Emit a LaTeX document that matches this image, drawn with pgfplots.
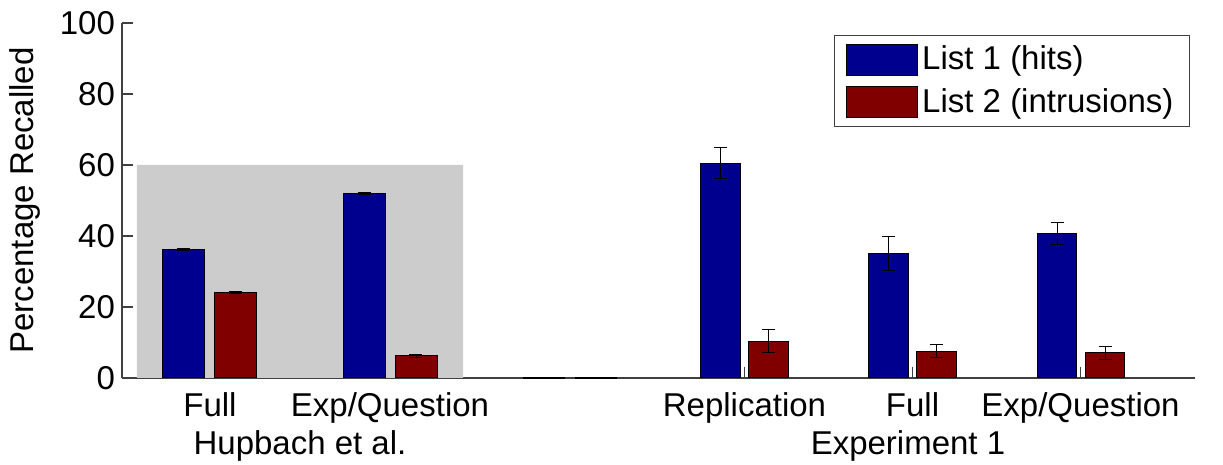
\documentclass[border=0pt]{standalone}
\usepackage{pgfplots}
\pgfplotsset{compat=1.18}
\usepackage{fontspec}
\setmainfont{Liberation Sans}
\definecolor{barblue}{rgb}{0,0,0.5625}
\definecolor{barred}{rgb}{0.5,0,0}
\definecolor{patchgray}{rgb}{0.8,0.8,0.8}
\begin{document}
\begin{tikzpicture}
\useasboundingbox (-61pt,-43.5pt) rectangle (550.5pt,189pt);
\begin{axis}[
  width=536.5pt, height=177.5pt, scale only axis,
  xmin=122, xmax=1195, ymin=0, ymax=100,
  axis lines*=left,
  axis line style={black!75, line width=0.6pt},
  tick style={black!75, line width=0.6pt},
  tick align=inside,
  major tick length=5.5pt,
  ytick={0,20,40,60,80,100},
  xtick={210,390,744.5,912.5,1080.5},
  xticklabels={Full,Exp/Question,Replication,Full,Exp/Question},
  /pgf/number format/assume math mode=true,
  tick label style={font=\fontsize{16.5}{19}\selectfont},
  xticklabel style={anchor=base, yshift=-19.4pt},
  ylabel={Percentage Recalled},
  ylabel style={font=\fontsize{16.5}{19}\selectfont, at={(axis description cs:0,0.5)}, anchor=base, yshift=44pt},
  legend style={at={(axis cs:1190,96.6)}, anchor=north east, draw=black!75, line width=0.5pt,
    font=\fontsize{16.5}{19}\selectfont, inner xsep=6pt, inner ysep=3.25pt, row sep=4pt,
    legend cell align=left},
  legend image code/.code={\draw[#1, line width=0.5pt] (0pt,-7.75pt) rectangle (35.5pt,7.75pt);},
  clip=false,
]
% background patch
\addplot[fill=patchgray, draw=none, forget plot] coordinates {(137,0) (137,60) (463,60) (463,0)} \closedcycle;
% Hupbach et al.
\addplot[ybar, bar width=42, bar shift=0pt, fill=barblue, draw=black, line width=0.5pt,
  error bars/.cd, y dir=both, y explicit, error bar style={black, line width=0.5pt},
  error mark options={rotate=90, black, mark size=3.25pt, line width=0.5pt}]
  table[x=x, y=y, y error=e] {
x y e
184 36.3 0.3
364.5 52.0 0.3
};
\addplot[ybar, bar width=42, bar shift=0pt, fill=barred, draw=black, line width=0.5pt,
  error bars/.cd, y dir=both, y explicit, error bar style={black, line width=0.5pt},
  error mark options={rotate=90, black, mark size=3.25pt, line width=0.5pt}]
  table[x=x, y=y, y error=e] {
x y e
236 24.0 0.3
416 6.2 0.3
};
% empty gap category
\addplot[ybar, bar width=42, bar shift=0pt, fill=barblue, draw=black, line width=0.9pt, forget plot]
  coordinates {(544,0)};
\addplot[ybar, bar width=42, bar shift=0pt, fill=barred, draw=black, line width=0.9pt, forget plot]
  coordinates {(596,0)};
% Experiment 1
\addplot[ybar, bar width=39.5, bar shift=0pt, fill=barblue, draw=black, line width=0.5pt, forget plot,
  error bars/.cd, y dir=both, y explicit, error bar style={black, line width=0.5pt},
  error mark options={rotate=90, black, mark size=3.25pt, line width=0.5pt}]
  table[x=x, y=y, y error=e] {
x y e
720.4 60.5 4.4
888.5 35.0 4.8
1057 40.7 3.2
};
\addplot[ybar, bar width=39.5, bar shift=0pt, fill=barred, draw=black, line width=0.5pt, forget plot,
  error bars/.cd, y dir=both, y explicit, error bar style={black, line width=0.5pt},
  error mark options={rotate=90, black, mark size=3.25pt, line width=0.5pt}]
  table[x=x, y=y, y error=e] {
x y e
768.5 10.4 3.3
936.5 7.6 1.9
1105 7.1 1.9
};
\legend{List 1 (hits), List 2 (intrusions)}
\node[anchor=base, font=\fontsize{16.5}{19}\selectfont] at (axis cs:300,0) [yshift=-38.5pt] {Hupbach et al.};
\node[anchor=base, font=\fontsize{16.5}{19}\selectfont] at (axis cs:908,0) [yshift=-38.5pt] {Experiment 1};
\end{axis}
\end{tikzpicture}
\end{document}
